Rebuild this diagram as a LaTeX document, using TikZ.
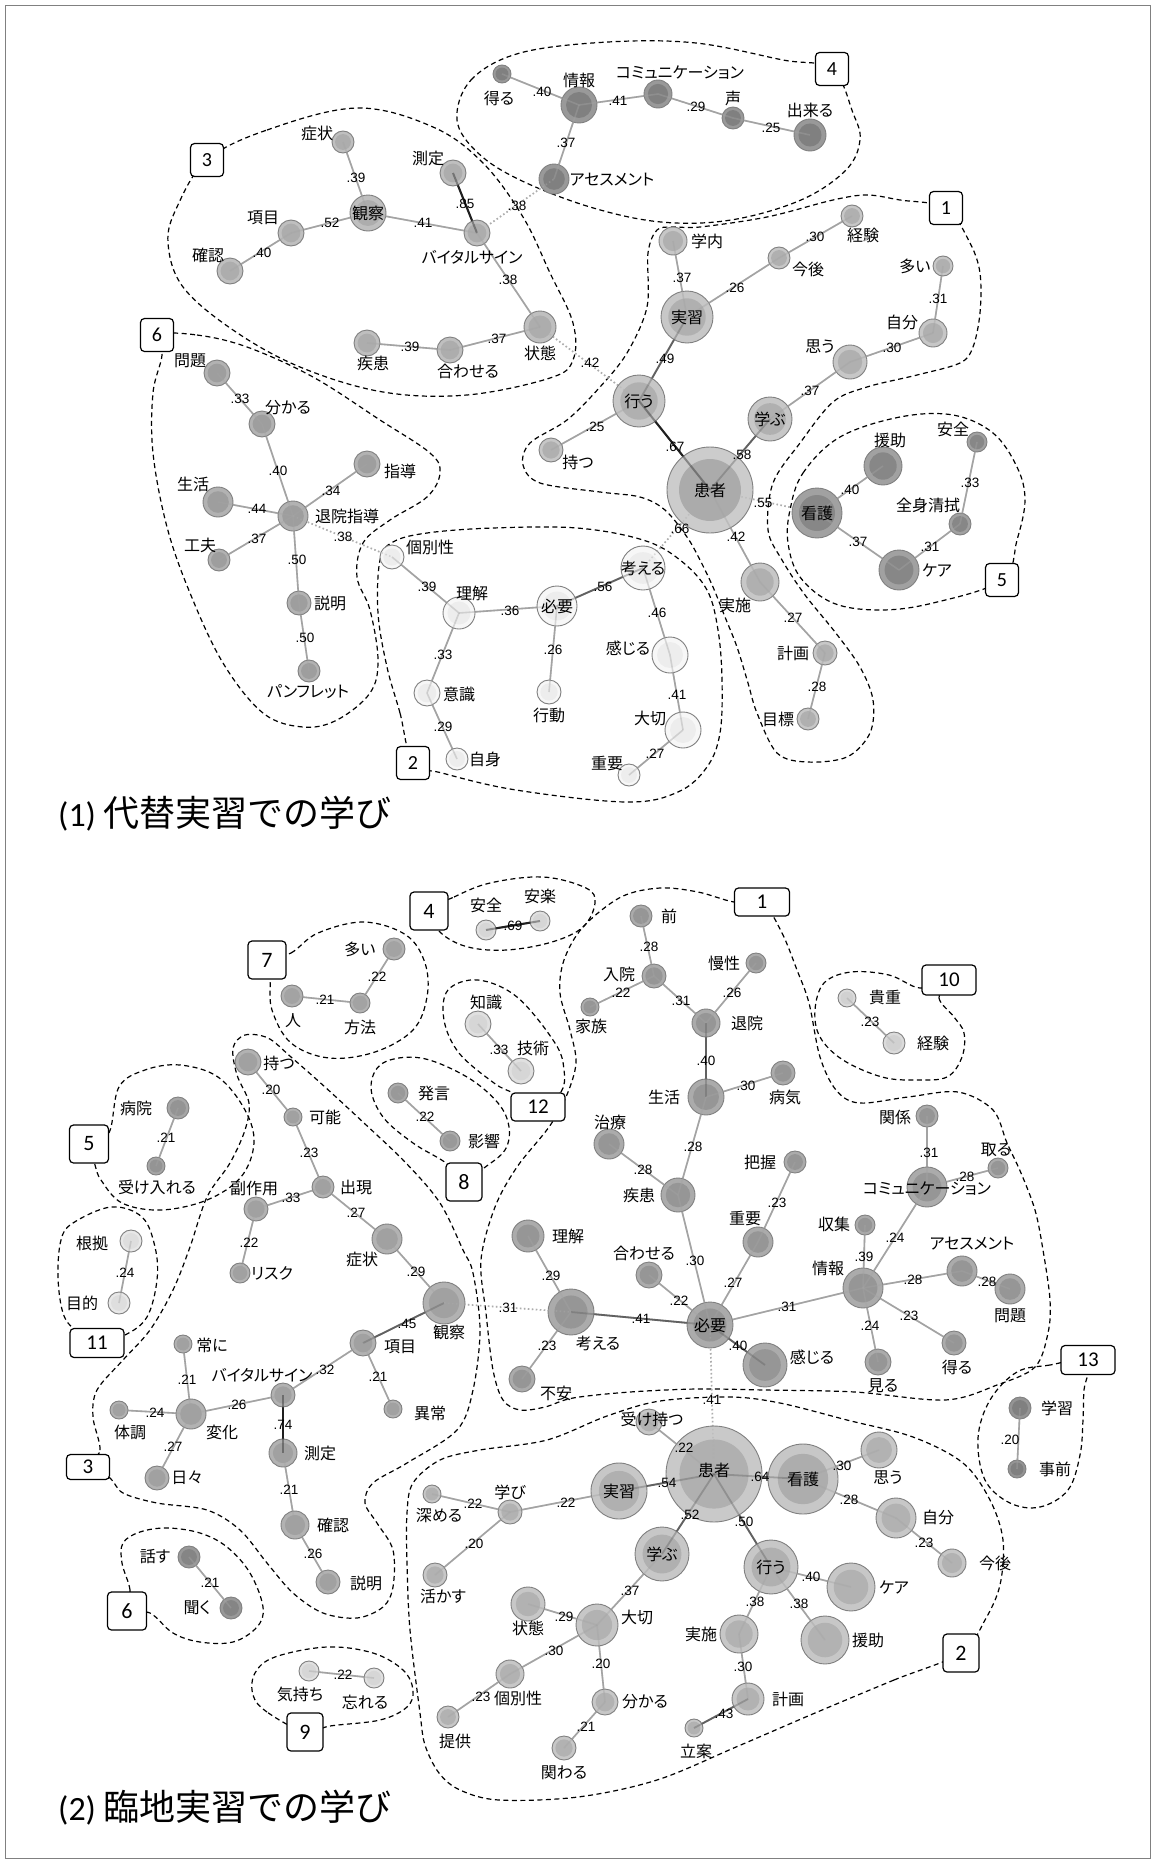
\documentclass[tikz,border=0pt]{standalone}
\usepackage{fontspec}
\newfontfamily\jp[RawFeature={+palt}]{Noto Sans CJK JP}
\newfontfamily\jpt{Noto Sans CJK JP}
\newfontfamily\arl{Liberation Sans}
\newfontfamily\calf{Carlito}
\newcounter{myc}
\newcommand\mynd[6]{%
 \node[circle, draw=black!50, line width=0.9pt, fill=black!#5, minimum size=#4*2, inner sep=0pt] (#1) at (#2,#3) {};
 \fill[black!#6] (#2,#3) circle[radius=#4*0.72pt];}
\newcommand\edA[6]{\draw[#3] (#1.center) -- (#2.center);}
\newcommand\edB[6]{%
 \stepcounter{myc}%
 \draw[#3, draw opacity=0.4] (#1.center) -- (#2.center);
 \node[elab] (el\arabic{myc}) at (#4,#5) {#6};}
\newcommand\mylb[3]{\stepcounter{myc}\node[lbl] (lb\arabic{myc}) at (#1,#2) {#3};}
\newcommand\mybx[6]{\stepcounter{myc}\node[nbox, minimum width=#3, minimum height=#4, font=\calf\fontsize{#6}{#6}\selectfont] (bx\arabic{myc}) at (#1,#2) {#5};}
\tikzset{
 blob/.style={draw=black, line width=1.2pt, dash pattern=on 5pt off 3.5pt},
 nbox/.style={draw=black, line width=1.2pt, rounded corners=4pt, fill=white, inner sep=0pt},
 e/.style={draw=black!36, line width=1.6pt},
 e2/.style={draw=black!62, line width=1.8pt},
 e3/.style={draw=black!88, line width=2pt},
 ed/.style={draw=black!32, line width=1.6pt, dash pattern=on 1.5pt off 2.5pt},
 elab/.style={inner sep=0pt, font=\arl\fontsize{13.5}{14}\selectfont},
 lbl/.style={inner sep=0pt, font=\jp\fontsize{16}{18}\selectfont},
}
\newcommand\edgelist{%
\myed{aEru}{aJoho}{e}{542}{92}{.40}
\myed{aJoho}{aComm}{e}{618}{101}{.41}
\myed{aComm}{aKoe}{e}{696}{107}{.29}
\myed{aKoe}{aDekiru}{e}{771}{128}{.25}
\myed{aJoho}{aAssess}{e}{566}{143}{.37}
\myed{aShojo}{aKansatsu}{e}{356}{178}{.39}
\myed{aKansatsu}{aKomoku}{e}{330}{223}{.52}
\myed{aKomoku}{aKakunin}{e}{262}{253}{.40}
\myed{aKansatsu}{aVital}{e}{423}{223}{.41}
\myed{aSokutei}{aVital}{e3}{465}{204}{.85}
\myed{aVital}{aAssess}{ed}{517}{206}{.38}
\myed{aVital}{aJotai}{e}{508}{280}{.38}
\myed{aJotai}{aAwaseru}{e}{497}{339}{.37}
\myed{aAwaseru}{aShikkan}{e}{410}{347}{.39}
\myed{aJotai}{aOkonau}{ed}{590}{363}{.42}
\myed{aGakunai}{aJisshu}{e}{682}{278}{.37}
\myed{aJisshu}{aKongo}{e}{735}{288}{.26}
\myed{aKongo}{aKeiken}{e}{815}{237}{.30}
\myed{aOoi}{aJibun}{e}{938}{299}{.31}
\myed{aOmou}{aJibun}{e}{892}{348}{.30}
\myed{aManabu}{aOmou}{e}{810}{391}{.37}
\myed{aJisshu}{aOkonau}{e2}{665}{359}{.49}
\myed{aOkonau}{aMotsu}{e}{595}{427}{.25}
\myed{aOkonau}{aKanja}{e3}{675}{447}{.67}
\myed{aKanja}{aManabu}{e2}{742}{455}{.58}
\myed{aKanja}{aKango}{ed}{763}{503}{.55}
\myed{aKanja}{aJisshi}{e}{736}{537}{.42}
\myed{aKanja}{aKangaeru}{ed}{680}{529}{.66}
\myed{aJisshi}{aKeikaku}{e}{793}{618}{.27}
\myed{aKeikaku}{aMokuhyo}{e}{817}{687}{.28}
\myed{aKango}{aEnjo}{e}{850}{490}{.40}
\myed{aAnzen}{aZenshin}{e}{970}{483}{.33}
\myed{aKango}{aCare}{e}{858}{542}{.37}
\myed{aCare}{aZenshin}{e}{930}{547}{.31}
\myed{aMondai}{aWakaru}{e}{240}{399}{.33}
\myed{aWakaru}{aTaiinShido}{e}{278}{471}{.40}
\myed{aTaiinShido}{aShido}{e}{331}{491}{.34}
\myed{aSeikatsu}{aTaiinShido}{e}{257}{509}{.44}
\myed{aKufu}{aTaiinShido}{e}{257}{539}{.37}
\myed{aTaiinShido}{aKobetsu}{ed}{343}{537}{.38}
\myed{aTaiinShido}{aSetsumei}{e}{297}{560}{.50}
\myed{aSetsumei}{aPamph}{e}{305}{638}{.50}
\myed{aKobetsu}{aRikai}{e}{427}{587}{.39}
\myed{aRikai}{aHitsuyo}{e}{510}{611}{.36}
\myed{aHitsuyo}{aKangaeru}{e2}{603}{587}{.56}
\myed{aHitsuyo}{aKodo}{e}{553}{650}{.26}
\myed{aKangaeru}{aKanjiru}{e}{657}{613}{.46}
\myed{aKanjiru}{aTaisetsu}{e}{677}{695}{.41}
\myed{aTaisetsu}{aJuyo}{e}{655}{754}{.27}
\myed{aRikai}{aIshiki}{e}{443}{655}{.33}
\myed{aIshiki}{aJishin}{e}{443}{727}{.29}
\myed{bAnzen}{bAnraku}{e3}{513}{926}{.69}
\myed{bHito}{bHoho}{e}{325}{1000}{.21}
\myed{bHoho}{bOoi}{e}{377}{977}{.22}
\myed{bChishiki}{bGijutsu}{e}{499}{1050}{.33}
\myed{bHatsugen}{bEikyo}{e}{425}{1117}{.22}
\myed{bByoin}{bUkeireru}{e}{166}{1138}{.21}
\myed{bKonkyo}{bMokuteki}{e}{125}{1273}{.24}
\myed{bMotsu}{bKano}{e}{271}{1090}{.20}
\myed{bKano}{bShutsugen}{e}{309}{1153}{.23}
\myed{bShutsugen}{bFukusayo}{e}{291}{1198}{.33}
\myed{bFukusayo}{bRisk}{e}{249}{1243}{.22}
\myed{bShutsugen}{bShojo}{e}{356}{1213}{.27}
\myed{bShojo}{bKansatsu}{e}{416}{1272}{.29}
\myed{bKansatsu}{bKomoku}{e2}{407}{1324}{.45}
\myed{bKansatsu}{bKangaeru}{ed}{508}{1308}{.31}
\myed{bKomoku}{bVital}{e}{325}{1370}{.32}
\myed{bKomoku}{bIjo}{e}{378}{1377}{.21}
\myed{bVital}{bHenka}{e}{237}{1405}{.26}
\myed{bTsuneni}{bHenka}{e}{187}{1380}{.21}
\myed{bTaicho}{bHenka}{e}{155}{1413}{.24}
\myed{bHenka}{bHibi}{e}{173}{1447}{.27}
\myed{bVital}{bSokutei}{e3}{283}{1425}{.74}
\myed{bSokutei}{bKakunin}{e}{289}{1490}{.21}
\myed{bKakunin}{bSetsumei}{e}{313}{1554}{.26}
\myed{bHanasu}{bKiku}{e}{210}{1583}{.21}
\myed{bKimochi}{bWasureru}{e}{343}{1675}{.22}
\myed{bKicho}{bKeiken}{e}{870}{1022}{.23}
\myed{bGakushu}{bJizen}{e}{1010}{1440}{.20}
\myed{bMae}{bNyuin}{e}{649}{947}{.28}
\myed{bNyuin}{bKazoku}{e}{621}{993}{.22}
\myed{bNyuin}{bTaiin}{e}{681}{1001}{.31}
\myed{bMansei}{bTaiin}{e}{732}{993}{.26}
\myed{bTaiin}{bSeikatsu}{e2}{706}{1061}{.40}
\myed{bSeikatsu}{bByoki}{e}{746}{1086}{.30}
\myed{bSeikatsu}{bShikkan}{e}{693}{1147}{.28}
\myed{bChiryo}{bShikkan}{e}{643}{1170}{.28}
\myed{bShikkan}{bHitsuyo}{e}{695}{1261}{.30}
\myed{bHaaku}{bJuyo}{e}{777}{1203}{.23}
\myed{bJuyo}{bHitsuyo}{e}{733}{1283}{.27}
\myed{bAwaseru}{bHitsuyo}{e}{679}{1301}{.22}
\myed{bRikai}{bKangaeru}{e}{551}{1276}{.29}
\myed{bKangaeru}{bHitsuyo}{e2}{641}{1319}{.41}
\myed{bKangaeru}{bFuan}{e}{547}{1346}{.23}
\myed{bHitsuyo}{bKanjiru}{e2}{738}{1346}{.40}
\myed{bHitsuyo}{bJoho}{e}{787}{1307}{.31}
\myed{bShushu}{bJoho}{e}{864}{1257}{.39}
\myed{bJoho}{bComm}{e}{895}{1238}{.24}
\myed{bKankei}{bComm}{e}{929}{1153}{.31}
\myed{bComm}{bToru}{e}{965}{1177}{.28}
\myed{bJoho}{bAssess}{e}{913}{1280}{.28}
\myed{bAssess}{bMondai}{e}{987}{1282}{.28}
\myed{bJoho}{bMiru}{e}{870}{1326}{.24}
\myed{bJoho}{bEru}{e}{909}{1316}{.23}
\myed{bHitsuyo}{bKanja}{ed}{712}{1400}{.41}
\myed{bUkemotsu}{bKanja}{e}{684}{1448}{.22}
\myed{bKanja}{bKango}{e2}{760}{1477}{.64}
\myed{bJisshu}{bKanja}{e2}{667}{1483}{.54}
\myed{bManabi}{bJisshu}{e}{566}{1503}{.22}
\myed{bFukameru}{bManabi}{e}{473}{1504}{.22}
\myed{bManabi}{bIkasu}{e}{474}{1544}{.20}
\myed{bKanja}{bManabu}{e2}{690}{1515}{.52}
\myed{bKanja}{bOkonau}{e2}{744}{1522}{.50}
\myed{bKango}{bOmou}{e}{842}{1466}{.30}
\myed{bKango}{bJibun}{e}{849}{1500}{.28}
\myed{bJibun}{bKongo}{e}{924}{1543}{.23}
\myed{bOkonau}{bCare}{e}{811}{1577}{.40}
\myed{bOkonau}{bEnjo}{e}{799}{1604}{.38}
\myed{bOkonau}{bJisshi}{e}{755}{1602}{.38}
\myed{bJisshi}{bKeikaku}{e}{743}{1667}{.30}
\myed{bKeikaku}{bRitsuan}{e2}{724}{1714}{.43}
\myed{bManabu}{bTaisetsu}{e}{630}{1591}{.37}
\myed{bJotai}{bTaisetsu}{e}{564}{1617}{.29}
\myed{bTaisetsu}{bKobetsu}{e}{554}{1651}{.30}
\myed{bKobetsu}{bTeikyo}{e}{481}{1697}{.23}
\myed{bTaisetsu}{bWakaru}{e}{601}{1664}{.20}
\myed{bWakaru}{bKakawaru}{e}{586}{1727}{.21}
}
\begin{document}
\begin{tikzpicture}[x=1pt,y=-1pt]
\useasboundingbox (0,0) rectangle (1155,1863);
\fill[white] (0,0) rectangle (1155,1863);
\draw[black!50, line width=1pt] (5,5) rectangle (1150,1858);

% ================= TOP: cluster outlines =================
\draw[blob] plot[smooth cycle, tension=0.6] coordinates {(207,160) (267,130) (357,108) (433,127) (483,163) (523,217) (550,273) (573,323) (573,360) (550,378) (467,395) (383,392) (300,367) (233,330) (183,287) (168,243) (177,207)};
\draw[blob] plot[smooth cycle, tension=0.6] coordinates {(457,120) (471,80) (520,53) (608,42) (696,43) (783,60) (832,69) (853,113) (860,140) (846,170) (801,200) (731,220) (661,222) (590,207) (520,180) (478,153)};
\draw[blob] plot[smooth cycle, tension=0.55] coordinates {(946,208) (970,243) (980,273) (980,313) (973,347) (960,363) (917,375) (867,387) (833,402) (800,443) (773,483) (768,530) (782,560) (805,595) (835,632) (860,667) (873,700) (870,733) (847,757) (807,762) (777,753) (757,713) (748,683) (737,647) (725,617) (713,587) (700,560) (687,537) (665,510) (640,497) (600,492) (540,483) (523,465) (530,443) (567,420) (600,387) (627,353) (647,307) (648,253) (657,230) (673,227) (700,227) (767,217) (833,200) (867,195) (900,200)};
\draw[blob] plot[smooth cycle, tension=0.6] coordinates {(790,510) (803,473) (840,437) (900,417) (953,415) (993,433) (1017,467) (1025,500) (1017,540) (1002,580) (933,603) (880,610) (833,603) (800,577) (788,543)};
\draw[blob] plot[smooth cycle, tension=0.6] coordinates {(157,335) (197,335) (247,347) (313,377) (380,420) (430,453) (440,473) (427,497) (390,520) (363,543) (357,577) (370,610) (378,660) (370,693) (337,720) (303,727) (263,713) (223,663) (190,593) (167,527) (153,453) (153,393) (162,355)};
\draw[blob] plot[smooth cycle, tension=0.6] coordinates {(413,763) (400,713) (387,667) (378,613) (380,560) (393,542) (427,533) (493,528) (577,528) (643,540) (680,560) (707,590) (718,630) (722,680) (720,733) (707,767) (678,792) (626,802) (516,790) (442,773)};

% ================= BOTTOM: cluster outlines =================
\draw[blob] plot[smooth cycle, tension=0.6] coordinates {(429,911) (454,897) (490,883) (543,877) (586,888) (595,903) (583,927) (552,942) (507,950) (468,947) (441,933)};
\draw[blob] plot[smooth cycle, tension=0.6] coordinates {(267,960) (291,953) (318,933) (364,922) (406,935) (425,963) (427,997) (413,1030) (375,1052) (329,1058) (291,1043) (272,1010) (270,980)};
\draw[blob] plot[smooth cycle, tension=0.6] coordinates {(538,1107) (561,1092) (564,1070) (555,1043) (517,997) (478,980) (448,990) (444,1020) (459,1053) (494,1083) (513,1093)};
\draw[blob] plot[smooth cycle, tension=0.6] coordinates {(464,1182) (484,1168) (505,1150) (509,1127) (498,1103) (467,1077) (421,1058) (383,1063) (371,1087) (383,1117) (413,1143) (446,1163)};
\draw[blob] plot[smooth cycle, tension=0.6] coordinates {(89,1144) (109,1133) (119,1087) (145,1070) (180,1065) (218,1077) (245,1110) (254,1143) (241,1177) (207,1200) (161,1210) (122,1203) (101,1180) (95,1165)};
\draw[blob] plot[smooth cycle, tension=0.6] coordinates {(97,1343) (125,1335) (147,1317) (157,1280) (155,1247) (142,1217) (111,1207) (73,1223) (61,1240) (58,1277) (63,1313) (75,1330)};
\draw[blob] plot[smooth cycle, tension=0.55] coordinates {(88,1467) (100,1450) (93,1417) (97,1390) (123,1360) (150,1330) (173,1290) (190,1247) (207,1197) (230,1163) (245,1130) (249,1103) (237,1075) (233,1048) (245,1035) (268,1038) (291,1057) (325,1087) (364,1123) (406,1163) (440,1203) (463,1250) (473,1273) (480,1330) (473,1390) (457,1430) (407,1463) (373,1483) (365,1503) (377,1523) (393,1550) (393,1587) (383,1607) (357,1618) (323,1613) (293,1593) (267,1563) (240,1530) (207,1510) (157,1503) (123,1493) (110,1478)};
\draw[blob] plot[smooth cycle, tension=0.55] coordinates {(762,902) (782,933) (797,970) (809,1003) (820,1057) (836,1090) (859,1103) (908,1097) (958,1092) (993,1110) (1007,1143) (1021,1173) (1035,1210) (1043,1250) (1050,1300) (1048,1333) (1035,1367) (997,1385) (945,1400) (855,1392) (765,1390) (697,1389) (630,1392) (573,1398) (545,1407) (520,1410) (503,1400) (493,1370) (486,1313) (481,1260) (495,1207) (517,1167) (549,1127) (566,1097) (576,1063) (570,1030) (560,993) (564,960) (583,927) (621,897) (660,888) (698,892) (734,902)};
\draw[blob] plot[smooth cycle, tension=0.6] coordinates {(949,980) (939,998) (954,1017) (964,1033) (962,1057) (947,1077) (916,1080) (882,1077) (843,1060) (820,1037) (815,1010) (824,983) (851,972) (889,975) (920,988)};
\draw[blob] plot[smooth cycle, tension=0.6] coordinates {(1088,1360) (1050,1365) (1017,1372) (990,1400) (978,1438) (985,1480) (1010,1503) (1040,1507) (1068,1490) (1080,1455) (1083,1420) (1084,1390)};
\draw[blob] plot[smooth cycle, tension=0.55] coordinates {(961,1653) (894,1680) (815,1713) (736,1747) (657,1780) (578,1797) (499,1800) (460,1790) (439,1773) (425,1745) (420,1713) (410,1630) (407,1563) (407,1513) (413,1483) (440,1460) (480,1450) (547,1440) (607,1416) (660,1401) (730,1397) (780,1403) (847,1420) (913,1437) (963,1463) (990,1500) (1003,1540) (1000,1585) (985,1620)};
\draw[blob] plot[smooth cycle, tension=0.6] coordinates {(127,1611) (130,1590) (122,1563) (123,1543) (140,1532) (167,1528) (200,1533) (227,1547) (250,1573) (263,1607) (257,1627) (233,1642) (200,1642) (173,1633) (150,1613)};
\draw[blob] plot[smooth cycle, tension=0.6] coordinates {(305,1732) (267,1712) (253,1695) (255,1673) (275,1657) (327,1647) (373,1653) (403,1670) (413,1690) (407,1707) (380,1720) (330,1726)};

% ================= boxes =================
\mybx{207}{160}{33}{33}{3}{20}
\mybx{157}{335}{33}{33}{6}{20}
\mybx{832}{69}{33}{33}{4}{20}
\mybx{946}{208}{33}{33}{1}{20}
\mybx{1002}{580}{33}{33}{5}{20}
\mybx{413}{763}{33}{33}{2}{20}
\mybx{429}{911}{38}{38}{4}{22}
\mybx{267}{960}{38}{38}{7}{22}
\mybx{762}{902}{55}{28}{1}{21}
\mybx{949}{980}{54}{30}{10}{21}
\mybx{538}{1107}{54}{28}{12}{21}
\mybx{464}{1182}{36}{38}{8}{22}
\mybx{89}{1144}{39}{38}{5}{22}
\mybx{97}{1343}{54}{29}{11}{21}
\mybx{88}{1467}{43}{25}{3}{21}
\mybx{1088}{1360}{54}{29}{13}{21}
\mybx{127}{1611}{39}{38}{6}{22}
\mybx{305}{1732}{36}{38}{9}{22}
\mybx{961}{1653}{36}{38}{2}{22}

% ================= node anchors first (needed by edges under the nodes) =================
\begin{scope}[opacity=0]
\node (aEru) at (502,74) {}; \node (aJoho) at (579,105) {}; \node (aComm) at (658,94) {}; \node (aKoe) at (733,118) {}; \node (aDekiru) at (810,135) {}; \node (aAssess) at (554,179) {};
\node (aShojo) at (343,142) {}; \node (aKansatsu) at (368,213) {}; \node (aSokutei) at (453,173) {}; \node (aVital) at (477,233) {}; \node (aKomoku) at (291,233) {}; \node (aKakunin) at (230,271) {}; \node (aJotai) at (540,327) {}; \node (aAwaseru) at (450,350) {}; \node (aShikkan) at (367,343) {};
\node (aGakunai) at (673,241) {}; \node (aJisshu) at (687,317) {}; \node (aKongo) at (779,258) {}; \node (aKeiken) at (852,216) {}; \node (aOoi) at (943,266) {}; \node (aJibun) at (933,333) {}; \node (aOmou) at (850,362) {}; \node (aManabu) at (770,419) {}; \node (aOkonau) at (639,401) {}; \node (aMotsu) at (551,450) {}; \node (aKanja) at (710,490) {}; \node (aJisshi) at (760,582) {}; \node (aKeikaku) at (825,653) {}; \node (aMokuhyo) at (808,719) {};
\node (aKango) at (817,513) {}; \node (aEnjo) at (883,466) {}; \node (aAnzen) at (977,442) {}; \node (aZenshin) at (960,524) {}; \node (aCare) at (899,570) {};
\node (aMondai) at (217,373) {}; \node (aWakaru) at (262,424) {}; \node (aShido) at (367,464) {}; \node (aSeikatsu) at (218,502) {}; \node (aTaiinShido) at (293,516) {}; \node (aKufu) at (219,560) {}; \node (aSetsumei) at (299,603) {}; \node (aPamph) at (309,671) {};
\node (aKobetsu) at (392,557) {}; \node (aRikai) at (459,613) {}; \node (aHitsuyo) at (557,606) {}; \node (aKangaeru) at (643,568) {}; \node (aKanjiru) at (670,655) {}; \node (aTaisetsu) at (683,730) {}; \node (aJuyo) at (629,775) {}; \node (aKodo) at (549,692) {}; \node (aIshiki) at (427,693) {}; \node (aJishin) at (457,759) {};
\node (bAnzen) at (486,930) {}; \node (bAnraku) at (540,921) {}; \node (bOoi) at (394,949) {}; \node (bHito) at (292,996) {}; \node (bHoho) at (360,1003) {}; \node (bChishiki) at (478,1024) {}; \node (bGijutsu) at (521,1071) {}; \node (bHatsugen) at (398,1093) {}; \node (bEikyo) at (450,1141) {}; \node (bByoin) at (178,1108) {}; \node (bUkeireru) at (156,1166) {}; \node (bKonkyo) at (131,1241) {}; \node (bMokuteki) at (119,1303) {};
\node (bMotsu) at (248,1062) {}; \node (bKano) at (293,1117) {}; \node (bShutsugen) at (323,1187) {}; \node (bFukusayo) at (256,1209) {}; \node (bRisk) at (240,1273) {}; \node (bShojo) at (387,1239) {}; \node (bKansatsu) at (444,1303) {}; \node (bKomoku) at (363,1343) {}; \node (bIjo) at (393,1409) {}; \node (bVital) at (283,1395) {}; \node (bTsuneni) at (183,1344) {}; \node (bHenka) at (191,1414) {}; \node (bTaicho) at (119,1410) {}; \node (bHibi) at (157,1478) {}; \node (bSokutei) at (283,1453) {}; \node (bKakunin) at (295,1525) {}; \node (bSetsumei) at (328,1582) {};
\node (bHanasu) at (189,1557) {}; \node (bKiku) at (231,1608) {}; \node (bKimochi) at (309,1671) {}; \node (bWasureru) at (374,1678) {}; \node (bKicho) at (847,998) {}; \node (bKeiken) at (894,1043) {}; \node (bGakushu) at (1020,1408) {}; \node (bJizen) at (1017,1469) {};
\node (bMae) at (641,916) {}; \node (bNyuin) at (654,976) {}; \node (bKazoku) at (590,1007) {}; \node (bMansei) at (756,963) {}; \node (bTaiin) at (706,1023) {}; \node (bSeikatsu) at (706,1097) {}; \node (bByoki) at (783,1073) {}; \node (bChiryo) at (609,1144) {}; \node (bShikkan) at (678,1195) {}; \node (bHaaku) at (795,1162) {}; \node (bJuyo) at (758,1242) {}; \node (bAwaseru) at (649,1275) {}; \node (bRikai) at (528,1236) {}; \node (bKangaeru) at (571,1312) {}; \node (bHitsuyo) at (710,1325) {}; \node (bFuan) at (522,1379) {}; \node (bKanjiru) at (765,1365) {}; \node (bJoho) at (863,1288) {}; \node (bShushu) at (865,1225) {}; \node (bComm) at (927,1187) {}; \node (bKankei) at (927,1116) {}; \node (bToru) at (998,1168) {}; \node (bAssess) at (962,1271) {}; \node (bMondai) at (1010,1289) {}; \node (bMiru) at (878,1362) {}; \node (bEru) at (954,1343) {};
\node (bKanja) at (714,1474) {}; \node (bUkemotsu) at (649,1422) {}; \node (bKango) at (803,1479) {}; \node (bJisshu) at (619,1491) {}; \node (bManabi) at (510,1512) {}; \node (bFukameru) at (432,1494) {}; \node (bIkasu) at (435,1575) {}; \node (bManabu) at (662,1554) {}; \node (bOkonau) at (771,1567) {}; \node (bOmou) at (879,1450) {}; \node (bJibun) at (896,1518) {}; \node (bKongo) at (952,1563) {}; \node (bCare) at (851,1587) {}; \node (bEnjo) at (825,1640) {}; \node (bJisshi) at (739,1634) {}; \node (bKeikaku) at (748,1699) {}; \node (bRitsuan) at (694,1728) {}; \node (bTaisetsu) at (597,1625) {}; \node (bJotai) at (528,1604) {}; \node (bKobetsu) at (510,1674) {}; \node (bTeikyo) at (448,1717) {}; \node (bWakaru) at (605,1702) {}; \node (bKakawaru) at (564,1748) {};
\end{scope}

% edges under the nodes
\let\myed\edA
\edgelist

% ================= TOP nodes =================
\mynd{aEru}{502}{74}{9}{40}{50}
\mynd{aJoho}{579}{105}{18}{40}{50}
\mynd{aComm}{658}{94}{14}{40}{50}
\mynd{aKoe}{733}{118}{11}{40}{50}
\mynd{aDekiru}{810}{135}{16}{40}{50}
\mynd{aAssess}{554}{179}{15}{40}{50}
\mynd{aShojo}{343}{142}{11}{25}{32}
\mynd{aKansatsu}{368}{213}{18}{25}{32}
\mynd{aSokutei}{453}{173}{13}{25}{32}
\mynd{aVital}{477}{233}{13}{25}{32}
\mynd{aKomoku}{291}{233}{13}{25}{32}
\mynd{aKakunin}{230}{271}{13}{25}{32}
\mynd{aJotai}{540}{327}{16}{25}{32}
\mynd{aAwaseru}{450}{350}{13}{25}{32}
\mynd{aShikkan}{367}{343}{13}{25}{32}
\mynd{aGakunai}{673}{241}{14}{22}{31}
\mynd{aJisshu}{687}{317}{26}{22}{31}
\mynd{aKongo}{779}{258}{11}{22}{31}
\mynd{aKeiken}{852}{216}{11}{22}{31}
\mynd{aOoi}{943}{266}{10}{22}{31}
\mynd{aJibun}{933}{333}{14}{22}{31}
\mynd{aOmou}{850}{362}{17}{22}{31}
\mynd{aManabu}{770}{419}{22}{22}{31}
\mynd{aOkonau}{639}{401}{26}{22}{31}
\mynd{aMotsu}{551}{450}{12}{22}{31}
\mynd{aKanja}{710}{490}{43}{20}{33}
\mynd{aJisshi}{760}{582}{19}{22}{31}
\mynd{aKeikaku}{825}{653}{12}{22}{31}
\mynd{aMokuhyo}{808}{719}{11}{22}{31}
\mynd{aKango}{817}{513}{25}{37}{47}
\mynd{aEnjo}{883}{466}{19}{37}{47}
\mynd{aAnzen}{977}{442}{10}{37}{47}
\mynd{aZenshin}{960}{524}{11}{37}{47}
\mynd{aCare}{899}{570}{20}{37}{47}
\mynd{aMondai}{217}{373}{13}{30}{38}
\mynd{aWakaru}{262}{424}{13}{30}{38}
\mynd{aShido}{367}{464}{13}{30}{38}
\mynd{aSeikatsu}{218}{502}{15}{30}{38}
\mynd{aTaiinShido}{293}{516}{15}{30}{38}
\mynd{aKufu}{219}{560}{11}{30}{38}
\mynd{aSetsumei}{299}{603}{12}{30}{38}
\mynd{aPamph}{309}{671}{11}{30}{38}
\mynd{aKobetsu}{392}{557}{12}{3}{7}
\mynd{aRikai}{459}{613}{16}{3}{7}
\mynd{aHitsuyo}{557}{606}{20}{3}{7}
\mynd{aKangaeru}{643}{568}{22}{3}{7}
\mynd{aKanjiru}{670}{655}{18}{3}{7}
\mynd{aTaisetsu}{683}{730}{18}{3}{7}
\mynd{aJuyo}{629}{775}{11}{3}{7}
\mynd{aKodo}{549}{692}{12}{3}{7}
\mynd{aIshiki}{427}{693}{13}{3}{7}
\mynd{aJishin}{457}{759}{11}{3}{7}

% ================= BOTTOM nodes =================
\mynd{bAnzen}{486}{930}{10}{12}{16}
\mynd{bAnraku}{540}{921}{10}{12}{16}
\mynd{bOoi}{394}{949}{11}{30}{36}
\mynd{bHito}{292}{996}{11}{30}{36}
\mynd{bHoho}{360}{1003}{10}{30}{36}
\mynd{bChishiki}{478}{1024}{13}{12}{16}
\mynd{bGijutsu}{521}{1071}{13}{12}{16}
\mynd{bHatsugen}{398}{1093}{10}{33}{40}
\mynd{bEikyo}{450}{1141}{10}{33}{40}
\mynd{bByoin}{178}{1108}{11}{35}{42}
\mynd{bUkeireru}{156}{1166}{9}{35}{42}
\mynd{bKonkyo}{131}{1241}{11}{9}{13}
\mynd{bMokuteki}{119}{1303}{11}{9}{13}
\mynd{bMotsu}{248}{1062}{13}{30}{37}
\mynd{bKano}{293}{1117}{9}{30}{37}
\mynd{bShutsugen}{323}{1187}{11}{30}{37}
\mynd{bFukusayo}{256}{1209}{12}{30}{37}
\mynd{bRisk}{240}{1273}{10}{30}{37}
\mynd{bShojo}{387}{1239}{15}{30}{37}
\mynd{bKansatsu}{444}{1303}{21}{30}{37}
\mynd{bKomoku}{363}{1343}{13}{30}{37}
\mynd{bIjo}{393}{1409}{9}{30}{37}
\mynd{bVital}{283}{1395}{12}{30}{37}
\mynd{bTsuneni}{183}{1344}{9}{30}{37}
\mynd{bHenka}{191}{1414}{15}{30}{37}
\mynd{bTaicho}{119}{1410}{9}{30}{37}
\mynd{bHibi}{157}{1478}{12}{30}{37}
\mynd{bSokutei}{283}{1453}{14}{30}{37}
\mynd{bKakunin}{295}{1525}{14}{30}{37}
\mynd{bSetsumei}{328}{1582}{12}{30}{37}
\mynd{bHanasu}{189}{1557}{11}{40}{48}
\mynd{bKiku}{231}{1608}{11}{40}{48}
\mynd{bKimochi}{309}{1671}{10}{12}{16}
\mynd{bWasureru}{374}{1678}{10}{12}{16}
\mynd{bKicho}{847}{998}{9}{14}{18}
\mynd{bKeiken}{894}{1043}{11}{14}{18}
\mynd{bGakushu}{1020}{1408}{11}{42}{50}
\mynd{bJizen}{1017}{1469}{9}{42}{50}
\mynd{bMae}{641}{916}{11}{33}{41}
\mynd{bNyuin}{654}{976}{12}{33}{41}
\mynd{bKazoku}{590}{1007}{9}{33}{41}
\mynd{bMansei}{756}{963}{10}{33}{41}
\mynd{bTaiin}{706}{1023}{14}{33}{41}
\mynd{bSeikatsu}{706}{1097}{18}{33}{41}
\mynd{bByoki}{783}{1073}{12}{33}{41}
\mynd{bChiryo}{609}{1144}{15}{33}{41}
\mynd{bShikkan}{678}{1195}{17}{33}{41}
\mynd{bHaaku}{795}{1162}{11}{33}{41}
\mynd{bJuyo}{758}{1242}{15}{33}{41}
\mynd{bAwaseru}{649}{1275}{13}{33}{41}
\mynd{bRikai}{528}{1236}{16}{33}{41}
\mynd{bKangaeru}{571}{1312}{23}{33}{41}
\mynd{bHitsuyo}{710}{1325}{23}{33}{41}
\mynd{bFuan}{522}{1379}{13}{33}{41}
\mynd{bKanjiru}{765}{1365}{22}{33}{41}
\mynd{bJoho}{863}{1288}{20}{33}{41}
\mynd{bShushu}{865}{1225}{10}{33}{41}
\mynd{bComm}{927}{1187}{20}{33}{41}
\mynd{bKankei}{927}{1116}{11}{33}{41}
\mynd{bToru}{998}{1168}{10}{33}{41}
\mynd{bAssess}{962}{1271}{15}{33}{41}
\mynd{bMondai}{1010}{1289}{15}{33}{41}
\mynd{bMiru}{878}{1362}{13}{33}{41}
\mynd{bEru}{954}{1343}{12}{33}{41}
\mynd{bKanja}{714}{1474}{48}{21}{31}
\mynd{bUkemotsu}{649}{1422}{13}{22}{30}
\mynd{bKango}{803}{1479}{35}{22}{32}
\mynd{bJisshu}{619}{1491}{28}{22}{31}
\mynd{bManabi}{510}{1512}{12}{22}{30}
\mynd{bFukameru}{432}{1494}{9}{22}{30}
\mynd{bIkasu}{435}{1575}{12}{22}{30}
\mynd{bManabu}{662}{1554}{27}{22}{31}
\mynd{bOkonau}{771}{1567}{27}{22}{31}
\mynd{bOmou}{879}{1450}{18}{22}{30}
\mynd{bJibun}{896}{1518}{20}{22}{30}
\mynd{bKongo}{952}{1563}{14}{22}{30}
\mynd{bCare}{851}{1587}{24}{22}{30}
\mynd{bEnjo}{825}{1640}{24}{22}{30}
\mynd{bJisshi}{739}{1634}{19}{22}{30}
\mynd{bKeikaku}{748}{1699}{16}{22}{30}
\mynd{bRitsuan}{694}{1728}{9}{22}{30}
\mynd{bTaisetsu}{597}{1625}{21}{22}{30}
\mynd{bJotai}{528}{1604}{17}{22}{30}
\mynd{bKobetsu}{510}{1674}{14}{22}{30}
\mynd{bTeikyo}{448}{1717}{11}{22}{30}
\mynd{bWakaru}{605}{1702}{13}{22}{30}
\mynd{bKakawaru}{564}{1748}{12}{22}{30}

% faint edges through the nodes, and edge labels
\let\myed\edB
\edgelist

% ================= TOP labels =================
\mylb{499}{98}{得る}
\mylb{579}{80}{情報}
\mylb{680}{73}{コミュニケーション}
\mylb{733}{98}{声}
\mylb{810}{110}{出来る}
\mylb{612}{180}{アセスメント}
\mylb{317}{133}{症状}
\mylb{368}{213}{観察}
\mylb{428}{158}{測定}
\mylb{472}{257}{バイタルサイン}
\mylb{263}{218}{項目}
\mylb{208}{255}{確認}
\mylb{540}{353}{状態}
\mylb{468}{371}{合わせる}
\mylb{373}{363}{疾患}
\mylb{707}{241}{学内}
\mylb{687}{317}{実習}
\mylb{808}{269}{今後}
\mylb{863}{235}{経験}
\mylb{915}{266}{多い}
\mylb{902}{322}{自分}
\mylb{820}{347}{思う}
\mylb{770}{419}{学ぶ}
\mylb{639}{401}{行う}
\mylb{578}{462}{持つ}
\mylb{710}{490}{患者}
\mylb{735}{605}{実施}
\mylb{793}{653}{計画}
\mylb{778}{719}{目標}
\mylb{817}{513}{看護}
\mylb{890}{440}{援助}
\mylb{953}{429}{安全}
\mylb{928}{505}{全身清拭}
\mylb{937}{570}{ケア}
\mylb{190}{361}{問題}
\mylb{288}{408}{分かる}
\mylb{400}{471}{指導}
\mylb{193}{484}{生活}
\mylb{347}{516}{退院指導}
\mylb{200}{545}{工夫}
\mylb{330}{603}{説明}
\mylb{308}{692}{パンフレット}
\mylb{430}{547}{個別性}
\mylb{472}{593}{理解}
\mylb{557}{606}{必要}
\mylb{643}{568}{考える}
\mylb{628}{648}{感じる}
\mylb{650}{718}{大切}
\mylb{607}{763}{重要}
\mylb{549}{715}{行動}
\mylb{459}{694}{意識}
\mylb{485}{759}{自身}

% ================= BOTTOM labels =================
\mylb{486}{905}{安全}
\mylb{540}{896}{安楽}
\mylb{360}{949}{多い}
\mylb{293}{1021}{人}
\mylb{360}{1027}{方法}
\mylb{486}{1002}{知識}
\mylb{533}{1048}{技術}
\mylb{434}{1093}{発言}
\mylb{484}{1141}{影響}
\mylb{136}{1108}{病院}
\mylb{157}{1187}{受け入れる}
\mylb{92}{1243}{根拠}
\mylb{82}{1303}{目的}
\mylb{279}{1063}{持つ}
\mylb{325}{1117}{可能}
\mylb{356}{1187}{出現}
\mylb{254}{1188}{副作用}
\mylb{272}{1273}{リスク}
\mylb{362}{1259}{症状}
\mylb{449}{1332}{観察}
\mylb{400}{1347}{項目}
\mylb{430}{1413}{異常}
\mylb{262}{1375}{バイタルサイン}
\mylb{212}{1345}{常に}
\mylb{222}{1432}{変化}
\mylb{130}{1432}{体調}
\mylb{187}{1478}{日々}
\mylb{320}{1453}{測定}
\mylb{333}{1525}{確認}
\mylb{366}{1583}{説明}
\mylb{155}{1557}{話す}
\mylb{197}{1608}{聞く}
\mylb{300}{1694}{気持ち}
\mylb{365}{1702}{忘れる}
\mylb{885}{997}{貴重}
\mylb{933}{1043}{経験}
\mylb{1057}{1408}{学習}
\mylb{1055}{1469}{事前}
\mylb{669}{916}{前}
\mylb{619}{974}{入院}
\mylb{591}{1026}{家族}
\mylb{724}{963}{慢性}
\mylb{747}{1023}{退院}
\mylb{664}{1097}{生活}
\mylb{785}{1097}{病気}
\mylb{610}{1122}{治療}
\mylb{639}{1195}{疾患}
\mylb{760}{1162}{把握}
\mylb{745}{1218}{重要}
\mylb{644}{1253}{合わせる}
\mylb{568}{1236}{理解}
\mylb{598}{1343}{考える}
\mylb{710}{1325}{必要}
\mylb{556}{1393}{不安}
\mylb{812}{1357}{感じる}
\mylb{828}{1268}{情報}
\mylb{834}{1224}{収集}
\mylb{927}{1189}{コミュニケーション}
\mylb{895}{1117}{関係}
\mylb{996}{1150}{取る}
\mylb{972}{1244}{アセスメント}
\mylb{1010}{1316}{問題}
\mylb{883}{1386}{見る}
\mylb{957}{1367}{得る}
\mylb{714}{1470}{患者}
\mylb{652}{1419}{受け持つ}
\mylb{803}{1479}{看護}
\mylb{619}{1491}{実習}
\mylb{510}{1492}{学び}
\mylb{439}{1515}{深める}
\mylb{443}{1596}{活かす}
\mylb{662}{1554}{学ぶ}
\mylb{771}{1567}{行う}
\mylb{888}{1478}{思う}
\mylb{938}{1517}{自分}
\mylb{995}{1563}{今後}
\mylb{894}{1587}{ケア}
\mylb{868}{1640}{援助}
\mylb{701}{1634}{実施}
\mylb{788}{1699}{計画}
\mylb{696}{1751}{立案}
\mylb{637}{1617}{大切}
\mylb{528}{1628}{状態}
\mylb{518}{1698}{個別性}
\mylb{455}{1741}{提供}
\mylb{645}{1702}{分かる}
\mylb{564}{1773}{関わる}

% ================= titles =================
\node[anchor=west, inner sep=0pt] (title1) at (58,814) {{\calf\fontsize{34}{36}\selectfont (1)\ }{\jpt\fontsize{36}{38}\selectfont 代替実習での学び}};
\node[anchor=west, inner sep=0pt] (title2) at (58,1808) {{\calf\fontsize{34}{36}\selectfont (2)\ }{\jpt\fontsize{36}{38}\selectfont 臨地実習での学び}};
\end{tikzpicture}
\end{document}
